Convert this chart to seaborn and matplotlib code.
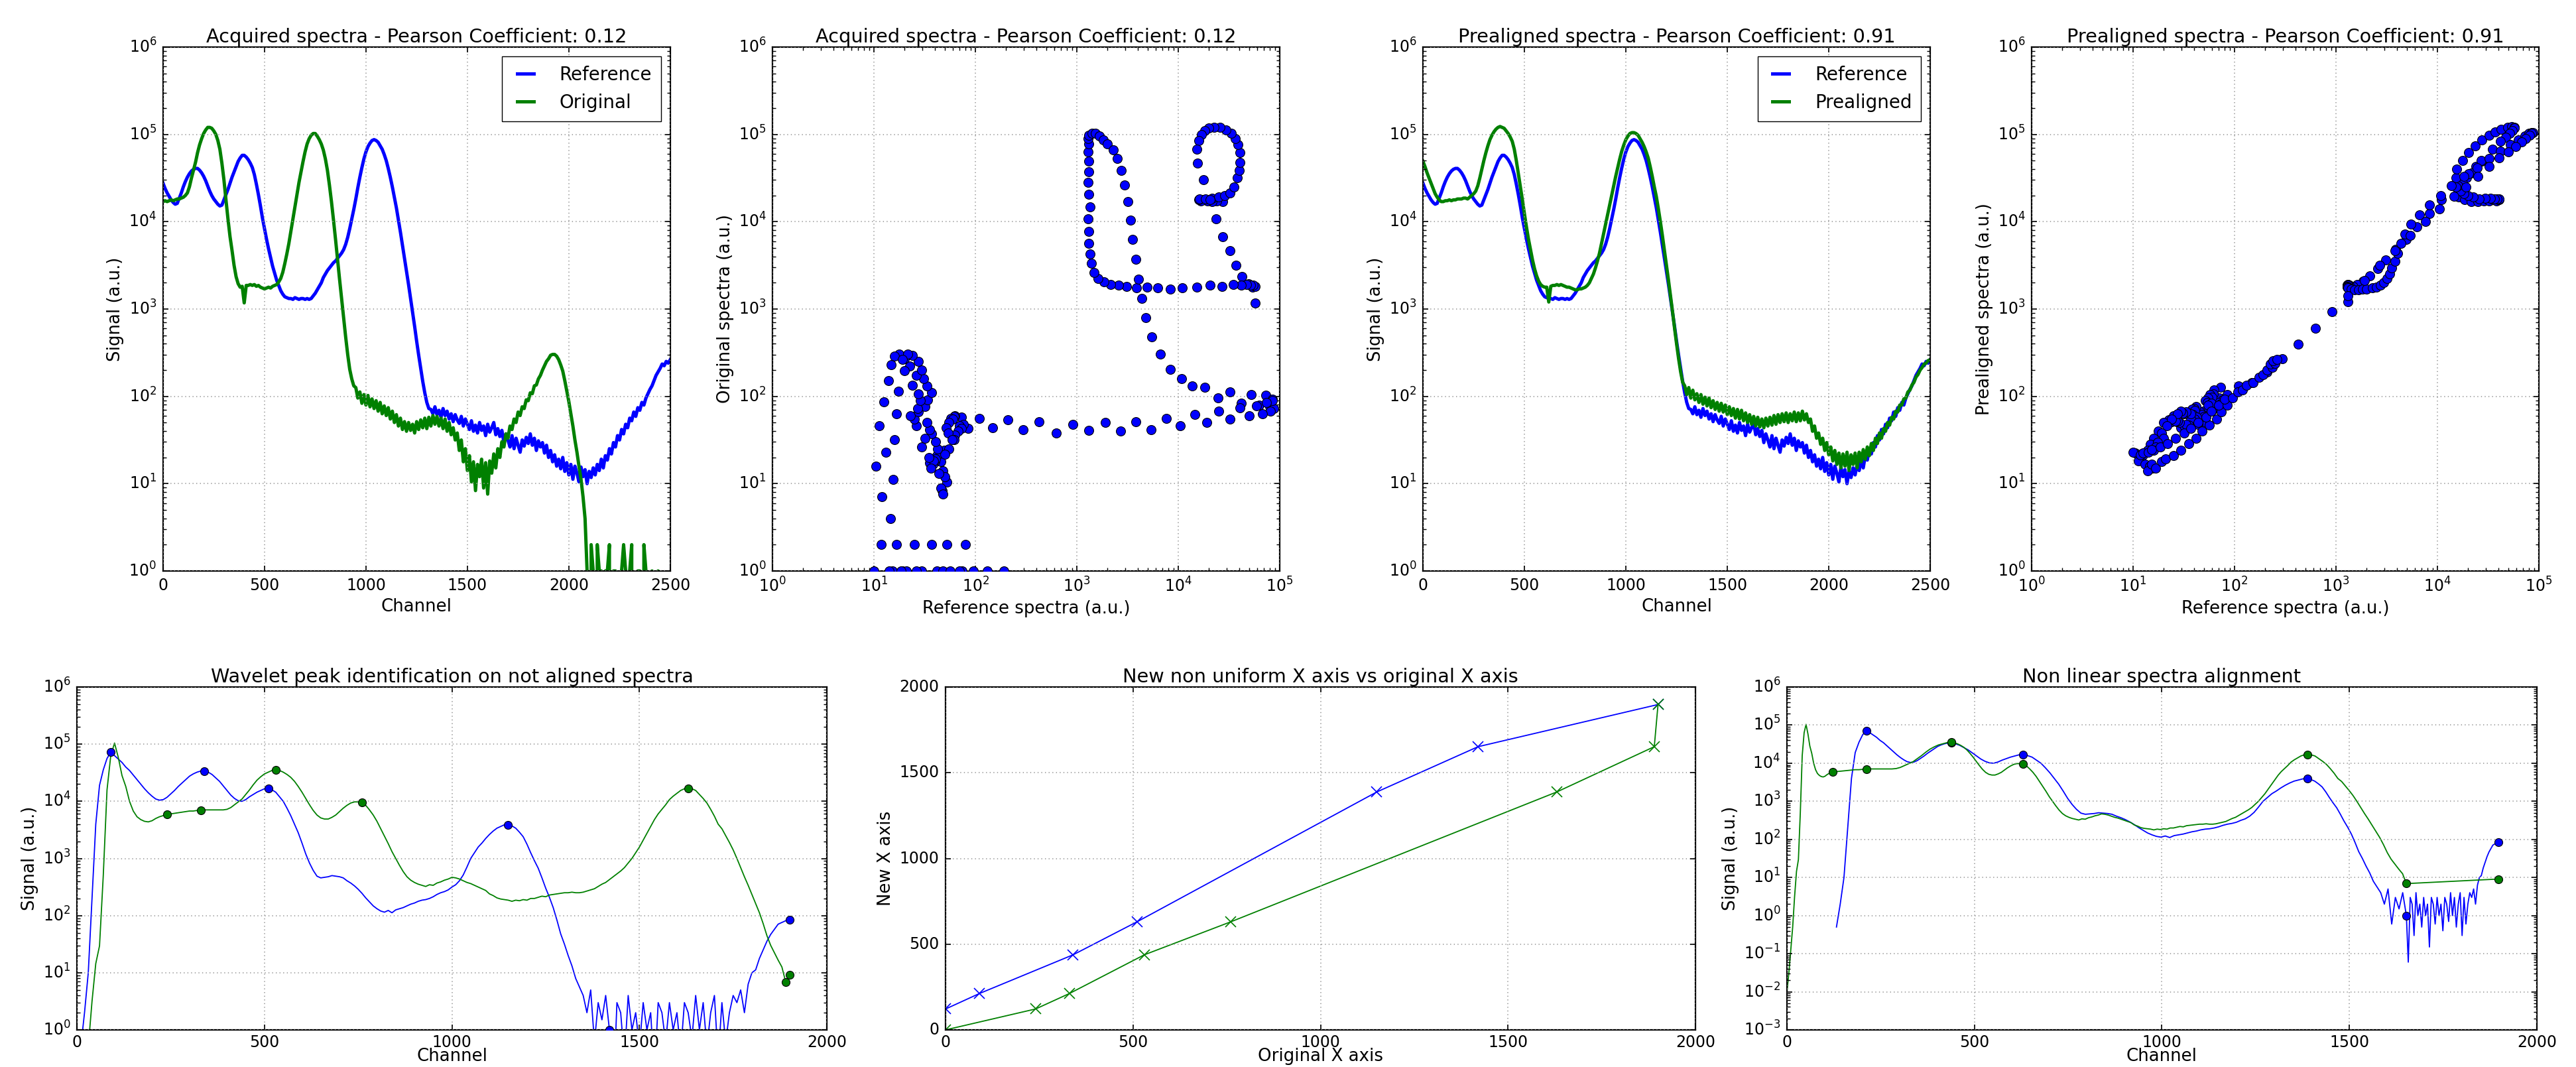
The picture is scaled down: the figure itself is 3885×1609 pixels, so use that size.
import numpy as np
import matplotlib
matplotlib.use('Agg')
import matplotlib.pyplot as plt
import seaborn as sns

# ---- top row: acquired spectra, channel 0..2500 every 10, values read as log10(counts)
channel = np.arange(0, 2501, 10)

ref_log = [
    4.44, 4.38, 4.33, 4.29, 4.25, 4.22, 4.20, 4.21, 4.27, 4.33,
    4.40, 4.46, 4.51, 4.55, 4.58, 4.60, 4.61, 4.61, 4.59, 4.56,
    4.52, 4.47, 4.41, 4.35, 4.30, 4.26, 4.23, 4.20, 4.18, 4.19,
    4.25, 4.31, 4.37, 4.44, 4.51, 4.57, 4.63, 4.69, 4.73, 4.76,
    4.76, 4.74, 4.71, 4.67, 4.62, 4.54, 4.43, 4.31, 4.18, 4.04,
    3.92, 3.80, 3.69, 3.59, 3.49, 3.41, 3.33, 3.27, 3.21, 3.17,
    3.14, 3.13, 3.12, 3.12, 3.11, 3.13, 3.12, 3.11, 3.12, 3.12,
    3.11, 3.12, 3.11, 3.12, 3.15, 3.18, 3.22, 3.26, 3.30, 3.36,
    3.40, 3.44, 3.47, 3.50, 3.53, 3.55, 3.58, 3.61, 3.64, 3.68,
    3.74, 3.82, 3.92, 4.03, 4.14, 4.26, 4.39, 4.51, 4.62, 4.72,
    4.80, 4.86, 4.90, 4.93, 4.94, 4.93, 4.91, 4.87, 4.83, 4.77,
    4.70, 4.61, 4.51, 4.40, 4.28, 4.16, 4.02, 3.88, 3.73, 3.58,
    3.43, 3.28, 3.12, 2.96, 2.80, 2.63, 2.47, 2.32, 2.17, 2.04,
    1.93, 1.86, 1.85, 1.80, 1.88, 1.79, 1.84, 1.76, 1.86, 1.78,
    1.83, 1.74, 1.80, 1.71, 1.79, 1.73, 1.69, 1.77, 1.66, 1.74,
    1.68, 1.62, 1.72, 1.60, 1.67, 1.58, 1.70, 1.61, 1.66, 1.55,
    1.68, 1.59, 1.64, 1.70, 1.56, 1.63, 1.54, 1.61, 1.47, 1.57,
    1.50, 1.42, 1.55, 1.40, 1.52, 1.44, 1.36, 1.50, 1.43, 1.53,
    1.46, 1.57, 1.44, 1.52, 1.38, 1.49, 1.42, 1.47, 1.35, 1.44,
    1.30, 1.38, 1.25, 1.33, 1.20, 1.28, 1.17, 1.30, 1.14, 1.24,
    1.10, 1.22, 1.05, 1.20, 1.12, 1.02, 1.19, 1.08, 1.16, 1.00,
    1.14, 1.07, 1.18, 1.10, 1.22, 1.15, 1.28, 1.18, 1.32, 1.27,
    1.40, 1.34, 1.47, 1.42, 1.55, 1.50, 1.62, 1.57, 1.68, 1.64,
    1.75, 1.72, 1.82, 1.77, 1.87, 1.84, 1.93, 1.90, 1.98, 2.03,
    2.08, 2.12, 2.18, 2.24, 2.28, 2.32, 2.37, 2.35, 2.40, 2.38,
    2.42,
]

# original spectrum: log10 for channels 0..2080, raw counts for 2090..2500
orig_log = [
    4.23, 4.24, 4.23, 4.24, 4.25, 4.24, 4.25, 4.26, 4.26, 4.27,
    4.28, 4.30, 4.33, 4.40, 4.50, 4.59, 4.68, 4.79, 4.88, 4.95,
    5.01, 5.05, 5.08, 5.08, 5.07, 5.04, 5.00, 4.93, 4.83, 4.67,
    4.48, 4.25, 4.03, 3.83, 3.67, 3.50, 3.37, 3.29, 3.25, 3.26,
    3.07, 3.27, 3.27, 3.28, 3.27, 3.28, 3.26, 3.27, 3.25, 3.24,
    3.23, 3.24, 3.25, 3.24, 3.26, 3.27, 3.28, 3.31, 3.35, 3.42,
    3.52, 3.63, 3.75, 3.89, 4.03, 4.17, 4.31, 4.45, 4.57, 4.69,
    4.80, 4.89, 4.95, 4.99, 5.01, 5.01, 4.98, 4.94, 4.89, 4.82,
    4.72, 4.59, 4.42, 4.23, 4.02, 3.80, 3.57, 3.34, 3.12, 2.90,
    2.68, 2.48, 2.31, 2.20, 2.12, 2.10, 1.98, 2.05, 1.92, 2.02,
    1.90, 2.01, 1.88, 1.97, 1.86, 1.95, 1.83, 1.93, 1.80, 1.89,
    1.78, 1.87, 1.74, 1.83, 1.70, 1.79, 1.66, 1.75, 1.62, 1.71,
    1.60, 1.70, 1.61, 1.68, 1.58, 1.71, 1.62, 1.73, 1.64, 1.75,
    1.63, 1.76, 1.66, 1.78, 1.68, 1.77, 1.66, 1.75, 1.63, 1.74,
    1.60, 1.70, 1.56, 1.64, 1.50, 1.58, 1.38, 1.50, 1.25, 1.40,
    1.15, 1.32, 1.02, 1.25, 0.92, 1.22, 1.08, 1.28, 0.95, 1.24,
    0.88, 1.26, 1.12, 1.34, 1.18, 1.40, 1.30, 1.48, 1.42, 1.57,
    1.52, 1.66, 1.62, 1.74, 1.70, 1.82, 1.78, 1.88, 1.86, 1.96,
    1.95, 2.04, 2.03, 2.12, 2.13, 2.20, 2.24, 2.30, 2.35, 2.40,
    2.43, 2.47, 2.48, 2.48, 2.46, 2.42, 2.36, 2.29, 2.18, 2.06,
    1.94, 1.80, 1.66, 1.50, 1.36, 1.20, 1.05, 0.85, 0.60,
]
orig_tail = [
    1, 0, 2, 1, 0, 2, 1, 1, 0, 1,
    1, 2, 0, 1, 1, 0, 0, 1, 2, 1,
    0, 1, 2, 0, 0, 1, 1, 0, 2, 1,
    0, 0, 1, 0, 0, 1, 0, 0, 0, 0,
    0, 0,
]

pre_log = [
    4.69, 4.63, 4.56, 4.50, 4.44, 4.38, 4.32, 4.28, 4.25, 4.23,
    4.23, 4.24, 4.24, 4.25, 4.24, 4.25, 4.25, 4.26, 4.26, 4.26,
    4.27, 4.27, 4.26, 4.28, 4.30, 4.32, 4.35, 4.41, 4.50, 4.60,
    4.70, 4.79, 4.87, 4.94, 4.99, 5.03, 5.06, 5.08, 5.09, 5.08,
    5.07, 5.04, 5.01, 4.97, 4.92, 4.83, 4.70, 4.55, 4.40, 4.25,
    4.09, 3.94, 3.80, 3.68, 3.56, 3.46, 3.38, 3.32, 3.28, 3.26,
    3.25, 3.25, 3.08, 3.26, 3.27, 3.27, 3.28, 3.27, 3.28, 3.27,
    3.26, 3.25, 3.25, 3.24, 3.23, 3.22, 3.22, 3.23, 3.23, 3.24,
    3.25, 3.27, 3.30, 3.35, 3.40, 3.47, 3.55, 3.64, 3.75, 3.86,
    3.97, 4.08, 4.19, 4.30, 4.41, 4.52, 4.62, 4.72, 4.81, 4.88,
    4.94, 4.98, 5.01, 5.02, 5.02, 5.01, 4.99, 4.95, 4.91, 4.86,
    4.80, 4.73, 4.63, 4.52, 4.40, 4.29, 4.15, 4.00, 3.84, 3.67,
    3.50, 3.33, 3.15, 2.97, 2.78, 2.60, 2.43, 2.28, 2.16, 2.12,
    2.02, 2.10, 1.98, 2.07, 1.96, 2.03, 1.93, 2.02, 1.91, 1.99,
    1.89, 1.98, 1.87, 1.95, 1.85, 1.93, 1.83, 1.92, 1.82, 1.90,
    1.79, 1.88, 1.78, 1.86, 1.75, 1.85, 1.74, 1.84, 1.72, 1.81,
    1.70, 1.79, 1.68, 1.77, 1.66, 1.76, 1.65, 1.74, 1.64, 1.75,
    1.66, 1.76, 1.67, 1.78, 1.68, 1.79, 1.70, 1.80, 1.71, 1.81,
    1.70, 1.80, 1.72, 1.82, 1.71, 1.81, 1.72, 1.83, 1.73, 1.80,
    1.70, 1.74, 1.60, 1.66, 1.52, 1.58, 1.45, 1.52, 1.38, 1.47,
    1.33, 1.42, 1.26, 1.38, 1.22, 1.35, 1.18, 1.34, 1.20, 1.36,
    1.15, 1.33, 1.22, 1.35, 1.18, 1.36, 1.25, 1.39, 1.28, 1.42,
    1.32, 1.46, 1.38, 1.52, 1.46, 1.58, 1.52, 1.63, 1.60, 1.70,
    1.67, 1.76, 1.74, 1.83, 1.82, 1.90, 1.90, 1.97, 1.98, 2.05,
    2.07, 2.13, 2.16, 2.22, 2.25, 2.30, 2.33, 2.37, 2.38, 2.41,
    2.42,
]

# ---- bottom row: wavelet spectra, channel 0..1900 every 10
wave_channel = np.arange(0, 1901, 10)

wave_blue_start = [np.nan]
wave_blue_log = [
    -0.30, 0.30, 1.00, 2.30, 3.60, 4.28, 4.55, 4.75, 4.86,
    4.80, 4.74, 4.68, 4.60, 4.54, 4.46, 4.38, 4.30, 4.22, 4.15,
    4.09, 4.04, 4.02, 4.03, 4.07, 4.13, 4.19, 4.26, 4.32, 4.38,
    4.44, 4.48, 4.51, 4.53, 4.53, 4.51, 4.47, 4.41, 4.35, 4.27,
    4.19, 4.11, 4.05, 4.01, 4.00, 4.03, 4.08, 4.12, 4.16, 4.19,
    4.22, 4.23, 4.20, 4.16, 4.08, 4.00, 3.88, 3.75, 3.60, 3.45,
    3.27, 3.08, 2.92, 2.79, 2.69, 2.66, 2.67, 2.68, 2.70, 2.69,
    2.68, 2.66, 2.61, 2.57, 2.52, 2.46, 2.39, 2.31, 2.24, 2.17,
    2.12, 2.08, 2.06, 2.09, 2.05, 2.10, 2.12, 2.14, 2.17, 2.20,
    2.22, 2.25, 2.27, 2.28, 2.30, 2.33, 2.37, 2.40, 2.42, 2.45,
    2.50, 2.54, 2.61, 2.71, 2.85, 3.00, 3.10, 3.20, 3.27, 3.35,
    3.42, 3.48, 3.53, 3.56, 3.59, 3.59, 3.57, 3.53, 3.46, 3.38,
    3.25, 3.10, 2.96, 2.83, 2.66, 2.48, 2.32, 2.14, 1.92, 1.68,
    1.50, 1.30, 1.12, 0.90, 0.75,
]
wave_blue_noise = [
    4, 2, 5, 0.6, 3, 1.5, 4, 1, 0.06, 3,
    2, 0.3, 4, 1, 2, 0.5, 3, 1, 2, 0.15,
    3, 2, 0.6, 3, 1, 2, 0.4, 3, 2, 0.7,
    4, 1, 3, 0.5, 2, 4, 0.3, 3, 0.6, 2,
    4, 3, 5, 2,
]
wave_blue_end_log = [0.80, 1.00, 1.05, 1.25, 1.40, 1.55, 1.67, 1.76, 1.85, 1.88, 1.91, 1.93]

wave_green_log = [
    -2.00, -1.50, -0.90, -0.30, 0.50, 1.16, 1.47, 2.70, 4.20, 4.80,
    5.02, 4.77, 4.45, 4.26, 4.00, 3.83, 3.73, 3.68, 3.65, 3.64,
    3.66, 3.70, 3.73, 3.75, 3.77, 3.78, 3.79, 3.80, 3.81, 3.82,
    3.83, 3.83, 3.84, 3.84, 3.85, 3.85, 3.85, 3.85, 3.85, 3.85,
    3.86, 3.89, 3.94, 3.99, 4.04, 4.12, 4.20, 4.29, 4.37, 4.43,
    4.48, 4.51, 4.54, 4.55, 4.54, 4.51, 4.47, 4.42, 4.35, 4.26,
    4.16, 4.05, 3.94, 3.84, 3.76, 3.71, 3.69, 3.69, 3.72, 3.76,
    3.82, 3.88, 3.93, 3.97, 3.99, 3.99, 3.98, 3.93, 3.85, 3.76,
    3.65, 3.52, 3.39, 3.26, 3.12, 3.00, 2.88, 2.77, 2.68, 2.62,
    2.58, 2.55, 2.53, 2.51, 2.54, 2.53, 2.57, 2.59, 2.62, 2.64,
    2.67, 2.66, 2.64, 2.61, 2.58, 2.56, 2.53, 2.50, 2.47, 2.44,
    2.38, 2.35, 2.31, 2.29, 2.28, 2.27, 2.25, 2.27, 2.26, 2.28,
    2.27, 2.30, 2.30, 2.32, 2.34, 2.33, 2.36, 2.37, 2.38, 2.39,
    2.40, 2.40, 2.41, 2.40, 2.40, 2.41, 2.43, 2.45, 2.47, 2.51,
    2.55, 2.58, 2.63, 2.68, 2.73, 2.78, 2.84, 2.92, 3.00, 3.10,
    3.20, 3.32, 3.44, 3.56, 3.68, 3.78, 3.86, 3.94, 4.03, 4.09,
    4.14, 4.19, 4.22, 4.23, 4.22, 4.19, 4.12, 4.05, 3.97, 3.86,
    3.74, 3.60, 3.52, 3.40, 3.28, 3.15, 3.00, 2.84, 2.68, 2.53,
    2.37, 2.21, 2.05, 1.86, 1.65, 1.48, 1.35, 1.22, 1.10, 0.84,
    0.96,
]

# detected peaks (channels) and the new non uniform axis
blue_peaks = [90, 340, 510, 1150, 1420, 1900]
green_peaks = [240, 330, 530, 760, 1630, 1890, 1900]
blue_map_x = [0, 90, 340, 510, 1150, 1420, 1900]
blue_map_y = [122, 212, 438, 630, 1388, 1652, 1898]
green_map_x = [0, 240, 330, 530, 760, 1630, 1890, 1900]
green_map_y = [0, 122, 212, 438, 630, 1388, 1652, 1898]

BLUE = '#0000ff'
GREEN = '#008000'

reference = 10 ** np.array(ref_log)
original = np.concatenate([10 ** np.array(orig_log), orig_tail])
prealigned = 10 ** np.array(pre_log)
wave_blue = np.concatenate([wave_blue_start, 10 ** np.array(wave_blue_log),
                            wave_blue_noise, 10 ** np.array(wave_blue_end_log)])
wave_green = 10 ** np.array(wave_green_log)

plt.style.use('classic')
plt.rcParams.update({
    'font.family': ['DejaVu Sans'],
    'mathtext.fontset': 'dejavusans',
    'figure.facecolor': 'white',
    'savefig.facecolor': 'white',
    'axes.linewidth': 1.6,
    'axes.titlesize': 20.7,
    'axes.labelsize': 18.7,
    'xtick.labelsize': 17,
    'ytick.labelsize': 17,
    'xtick.major.size': 6, 'ytick.major.size': 6,
    'xtick.minor.size': 3.5, 'ytick.minor.size': 3.5,
    'xtick.major.width': 1.2, 'ytick.major.width': 1.2,
    'xtick.minor.width': 1.0, 'ytick.minor.width': 1.0,
    'xtick.major.pad': 7, 'ytick.major.pad': 7,
    'legend.fontsize': 20,
    'legend.fancybox': False,
    'grid.color': '#9a9a9a',
    'grid.linestyle': ':',
    'grid.linewidth': 1.2,
})


def spectrum_axes(ax, title, xmax, ymin, ylabel='Signal (a.u.)'):
    ax.set_yscale('log')
    ax.set_xlim(0, xmax)
    ax.set_ylim(ymin, 1e6)
    ax.set_title(title)
    ax.set_xlabel('Channel')
    ax.set_ylabel(ylabel)
    ax.grid(True)


def scatter_axes(ax, title, ylabel):
    ax.set_xscale('log')
    ax.set_yscale('log')
    ax.set_xlim(1, 1e5)
    ax.set_ylim(1, 1e6)
    ax.set_title(title)
    ax.set_xlabel('Reference spectra (a.u.)')
    ax.set_ylabel(ylabel)
    ax.grid(True)


fig = plt.figure(figsize=(38.85, 16.09), dpi=100)
top_b, top_h = 0.4649, 0.4910
bot_b, bot_h = 0.0348, 0.3213
ax1 = fig.add_axes([0.0633, top_b, 0.1969, top_h])
ax2 = fig.add_axes([0.2999, top_b, 0.1969, top_h])
ax3 = fig.add_axes([0.5524, top_b, 0.1969, top_h])
ax4 = fig.add_axes([0.7887, top_b, 0.1969, top_h])
ax5 = fig.add_axes([0.0299, bot_b, 0.2911, bot_h])
ax6 = fig.add_axes([0.3671, bot_b, 0.2911, bot_h])
ax7 = fig.add_axes([0.6937, bot_b, 0.2911, bot_h])

legend_kw = dict(loc='upper right', handlelength=1.5, handletextpad=1.1,
                 borderpad=0.5, framealpha=1, edgecolor='black')

# acquired spectra
sns.lineplot(x=channel, y=reference, ax=ax1, color=BLUE, lw=3.6, estimator=None,
             sort=False, label='Reference')
sns.lineplot(x=channel, y=original, ax=ax1, color=GREEN, lw=3.6, estimator=None,
             sort=False, label='Original')
spectrum_axes(ax1, 'Acquired spectra - Pearson Coefficient: 0.12', 2500, 1)
ax1.legend(**legend_kw)

sns.scatterplot(x=reference, y=original, ax=ax2, s=100, color=BLUE,
                edgecolor='black', linewidth=0.8, zorder=3)
scatter_axes(ax2, 'Acquired spectra - Pearson Coefficient: 0.12', 'Original spectra (a.u.)')

# prealigned spectra
sns.lineplot(x=channel, y=reference, ax=ax3, color=BLUE, lw=3.6, estimator=None,
             sort=False, label='Reference')
sns.lineplot(x=channel, y=prealigned, ax=ax3, color=GREEN, lw=3.6, estimator=None,
             sort=False, label='Prealigned')
spectrum_axes(ax3, 'Prealigned spectra - Pearson Coefficient: 0.91', 2500, 1)
ax3.legend(**legend_kw)

sns.scatterplot(x=reference, y=prealigned, ax=ax4, s=100, color=BLUE,
                edgecolor='black', linewidth=0.8, zorder=3)
scatter_axes(ax4, 'Prealigned spectra - Pearson Coefficient: 0.91', 'Prealigned spectra (a.u.)')

# wavelet peaks on the raw spectra
blue_idx = np.searchsorted(wave_channel, blue_peaks)
green_idx = np.searchsorted(wave_channel, green_peaks)

sns.lineplot(x=wave_channel, y=wave_blue, ax=ax5, color=BLUE, lw=1.3,
             estimator=None, sort=False)
sns.lineplot(x=wave_channel, y=wave_green, ax=ax5, color=GREEN, lw=1.3,
             estimator=None, sort=False)
sns.scatterplot(x=blue_peaks, y=wave_blue[blue_idx], ax=ax5, s=75, color=BLUE,
                edgecolor='black', linewidth=0.8, zorder=4)
sns.scatterplot(x=green_peaks, y=wave_green[green_idx], ax=ax5, s=75, color=GREEN,
                edgecolor='black', linewidth=0.8, zorder=4)
spectrum_axes(ax5, 'Wavelet peak identification on not aligned spectra', 2000, 1)

# new axis vs original axis
sns.lineplot(x=blue_map_x, y=blue_map_y, ax=ax6, color=BLUE, lw=1.3, marker='x',
             markersize=12, markeredgecolor=BLUE, markeredgewidth=1.2,
             estimator=None, sort=False)
sns.lineplot(x=green_map_x, y=green_map_y, ax=ax6, color=GREEN, lw=1.3, marker='x',
             markersize=12, markeredgecolor=GREEN, markeredgewidth=1.2,
             estimator=None, sort=False)
ax6.set_xlim(0, 2000)
ax6.set_ylim(0, 2000)
ax6.set_xticks(np.arange(0, 2001, 500))
ax6.set_yticks(np.arange(0, 2001, 500))
ax6.set_title('New non uniform X axis vs original X axis')
ax6.set_xlabel('Original X axis')
ax6.set_ylabel('New X axis')
ax6.grid(True)

# aligned spectra on the new axis
blue_new = np.interp(wave_channel, blue_map_x, blue_map_y)
green_new = np.interp(wave_channel, green_map_x, green_map_y)
sns.lineplot(x=blue_new, y=wave_blue, ax=ax7, color=BLUE, lw=1.3,
             estimator=None, sort=False)
sns.lineplot(x=green_new, y=wave_green, ax=ax7, color=GREEN, lw=1.3,
             estimator=None, sort=False)
sns.scatterplot(x=blue_new[blue_idx], y=wave_blue[blue_idx], ax=ax7, s=75, color=BLUE,
                edgecolor='black', linewidth=0.8, zorder=4)
sns.scatterplot(x=green_new[green_idx], y=wave_green[green_idx], ax=ax7, s=75,
                color=GREEN, edgecolor='black', linewidth=0.8, zorder=4)
spectrum_axes(ax7, 'Non linear spectra alignment', 2000, 1e-3)

for ax in (ax1, ax3, ax5, ax7):
    ax.set_xticks(np.arange(0, ax.get_xlim()[1] + 1, 500))

# bottom row x labels sit right at the figure edge: pull them in a little
for ax in (ax5, ax6, ax7):
    ax.tick_params(axis='x', pad=5)
    ax.xaxis.labelpad = -3

fig.savefig('out.png', dpi=100)
